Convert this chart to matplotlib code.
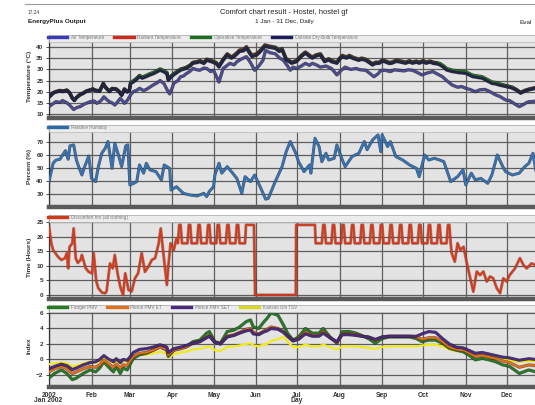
import numpy as np
import matplotlib
matplotlib.use("Agg")
import matplotlib.pyplot as plt
import matplotlib.patheffects as pe
from matplotlib.patches import Rectangle
from matplotlib.lines import Line2D

plt.rcParams['font.family'] = ['Liberation Sans', 'DejaVu Sans']

# ---------------- data ----------------
# indoor temperatures share one set of days (day of year)
indoor_days = [
    0, 2, 3, 5, 8, 10, 13, 15, 17, 18.5,
    20, 22.6, 25, 27, 30, 32, 34, 37, 39.6, 41,
    44, 46, 49, 51, 53, 55, 57, 58.6, 59.5, 61.5,
    64, 66, 68, 71, 73, 76, 78, 81, 84, 86,
    87, 89, 91, 94, 96, 98, 100, 103, 105, 108,
    110, 113, 115, 118, 120, 122, 124, 127, 130, 133,
    135, 137, 139, 142, 144, 146, 148, 151.5, 154, 157.5,
    161, 165, 168, 170, 173, 177, 180.5, 184, 187, 190,
    192, 195, 198, 201, 204, 206, 210, 212, 214, 217,
    219, 222, 226, 228, 231, 233, 236, 238, 241, 243,
    245, 248, 250, 253, 255, 258, 260, 263, 265, 268,
    270, 273, 275, 278, 280, 283, 285, 288, 290, 294,
    299, 304, 306, 309, 312, 316, 319, 323, 326, 328,
    331, 333, 336, 338, 341, 344, 347, 350, 353, 355,
]

air_temp = [
    17.5, 18.6, 19.3, 19.8, 20.3, 20.0, 20.5, 19.4, 17.0, 16.0,
    17.2, 18.5, 19.2, 20.0, 20.6, 21.0, 20.4, 20.2, 23.5, 22.0,
    20.0, 21.2, 21.0, 20.0, 18.3, 21.0, 19.8, 20.5, 23.6, 24.3,
    25.5, 26.7, 26.0, 26.7, 27.3, 28.0, 28.6, 29.6, 28.8, 28.0,
    25.0, 26.5, 27.5, 28.8, 29.6, 30.0, 30.4, 31.5, 32.7, 33.0,
    33.4, 32.6, 34.0, 33.5, 33.0, 32.5, 31.0, 34.0, 36.4, 35.0,
    35.7, 36.8, 38.0, 38.3, 39.5, 37.5, 35.7, 36.4, 37.8, 40.3,
    39.8, 39.4, 38.0, 38.7, 34.2, 32.7, 33.4, 35.7, 37.2, 35.8,
    35.0, 36.0, 36.4, 33.4, 34.2, 33.4, 32.7, 34.5, 35.7, 35.0,
    35.7, 34.8, 34.0, 34.5, 34.0, 33.2, 31.9, 32.6, 32.7, 33.6,
    33.4, 32.6, 32.7, 33.5, 33.4, 33.0, 32.7, 33.3, 32.7, 33.2,
    32.7, 33.4, 32.7, 33.2, 32.7, 32.4, 32.0, 30.8, 29.7, 29.0,
    28.5, 28.2, 27.6, 26.7, 26.4, 26.0, 25.0, 23.7, 23.4, 23.0,
    22.6, 22.3, 21.9, 21.5, 20.6, 19.3, 20.2, 20.8, 21.2, 21.5,
]

radiant_temp = [
    17.8, 18.9, 19.6, 20.1, 20.6, 20.3, 20.8, 19.7, 17.3, 16.3,
    17.5, 18.8, 19.5, 20.3, 20.9, 21.3, 20.7, 20.5, 23.8, 22.3,
    20.3, 21.5, 21.3, 20.3, 18.6, 21.3, 20.1, 20.8, 23.9, 24.6,
    25.9, 27.1, 26.4, 27.1, 27.7, 28.4, 29.0, 30.0, 29.2, 28.4,
    25.5, 27.0, 28.0, 29.3, 30.1, 30.5, 30.9, 32.0, 33.2, 33.5,
    34.0, 33.2, 34.6, 34.1, 33.6, 33.1, 31.6, 34.6, 37.0, 35.6,
    36.4, 37.5, 38.7, 39.0, 40.2, 38.2, 36.4, 37.1, 38.5, 41.0,
    40.4, 40.0, 38.6, 39.3, 34.8, 33.3, 34.0, 36.3, 37.8, 36.4,
    35.6, 36.6, 37.0, 34.0, 34.8, 34.0, 33.3, 35.1, 36.3, 35.6,
    36.3, 35.4, 34.6, 35.1, 34.6, 33.8, 32.5, 33.2, 33.3, 34.2,
    34.0, 33.2, 33.3, 34.1, 34.0, 33.6, 33.3, 33.9, 33.3, 33.8,
    33.3, 34.0, 33.3, 33.8, 33.3, 33.0, 32.5, 31.2, 30.1, 29.4,
    28.9, 28.6, 28.0, 27.1, 26.8, 26.4, 25.4, 24.1, 23.8, 23.4,
    23.0, 22.7, 22.3, 21.9, 21.0, 19.7, 20.6, 21.2, 21.6, 21.9,
]

operative_temp = [
    17.6, 18.7, 19.4, 19.9, 20.4, 20.1, 20.6, 19.5, 17.1, 16.1,
    17.3, 18.6, 19.3, 20.1, 20.7, 21.1, 20.5, 20.3, 23.6, 22.1,
    20.1, 21.3, 21.1, 20.1, 18.4, 21.1, 19.9, 20.6, 24.2, 24.9,
    26.1, 27.3, 26.6, 27.3, 27.9, 28.6, 29.2, 30.2, 29.4, 28.6,
    25.5, 27.0, 28.0, 29.3, 30.1, 30.3, 30.7, 31.8, 33.0, 33.3,
    33.7, 32.9, 34.3, 33.8, 33.3, 32.8, 31.3, 34.3, 36.7, 35.3,
    36.0, 37.1, 38.3, 38.6, 39.8, 37.8, 36.0, 36.7, 38.1, 40.6,
    40.1, 39.7, 38.3, 39.0, 34.5, 33.0, 33.7, 36.0, 37.5, 36.1,
    35.3, 36.3, 36.7, 33.7, 34.5, 33.7, 33.0, 34.8, 36.0, 35.3,
    36.0, 35.1, 34.3, 34.8, 34.3, 33.5, 32.2, 32.9, 33.0, 33.9,
    33.7, 32.9, 33.0, 33.8, 33.7, 33.3, 33.0, 33.6, 33.0, 33.5,
    33.0, 33.7, 33.0, 33.5, 33.0, 32.7, 32.7, 31.5, 30.4, 29.7,
    29.2, 28.9, 28.3, 27.4, 27.1, 26.7, 25.7, 24.4, 24.1, 23.7,
    23.1, 22.8, 22.4, 22.0, 20.8, 19.5, 20.4, 21.0, 21.4, 21.7,
]

# (day of year, value)
outdoor_temp = [
    (0, 13.3), (3, 14.6), (5, 15.5), (8, 15.2), (10, 16.0), (13, 15.0), (15, 14.0), (18, 12.0),
    (20, 12.8), (23, 13.4), (26, 14.5), (30, 15.5), (33, 15.8), (35, 14.8), (38, 16.0),
    (40, 17.7), (42, 16.5), (44, 15.5), (46, 15.0), (48, 14.0), (50, 15.4), (52, 17.0),
    (54, 15.6), (55, 14.8), (57, 16.0), (58, 17.0), (60, 19.0), (61.5, 20.0), (64, 20.6),
    (66, 21.5), (69, 20.5), (71, 21.0), (74, 22.2), (76, 23.0), (79, 24.0), (81, 25.0),
    (84, 23.5), (86, 21.0), (88, 19.0), (90, 22.0), (91, 23.7), (94, 25.0), (96, 26.7),
    (98, 27.0), (100, 28.0), (103, 29.2), (105, 30.4), (108, 29.8), (110, 29.6), (113, 30.6),
    (115, 30.4), (118, 29.0), (120, 29.6), (122, 27.0), (124, 24.3), (127, 30.4), (130, 31.8),
    (132, 32.7), (135, 32.0), (137, 33.4), (140, 34.5), (144, 35.7), (147, 33.0), (150, 29.6),
    (153, 31.5), (156, 34.0), (158, 38.5), (161, 37.5), (165, 37.0), (168, 35.2), (171, 34.0),
    (174, 31.5), (176, 29.6), (178, 31.0), (180.5, 30.4), (184, 31.5), (187, 32.7), (190, 31.8),
    (192, 32.7), (195, 32.0), (198, 31.0), (202, 31.5), (206, 30.4), (208, 29.0), (210, 27.5),
    (213, 29.5), (216, 31.0), (220, 30.0), (224, 30.4), (227, 29.8), (231, 29.6), (234, 28.2),
    (237, 26.7), (240, 28.0), (242, 29.5), (245, 29.6), (249, 29.0), (252, 29.8), (255, 29.6),
    (259, 29.3), (262, 29.8), (265, 29.6), (268, 28.8), (272, 27.5), (276, 28.4), (280, 29.0),
    (283, 28.0), (287, 26.7), (290, 25.0), (294, 23.0), (298, 22.0), (301, 22.3), (304, 21.5),
    (307, 21.0), (311, 20.0), (314, 20.8), (318, 21.0), (321, 20.2), (323, 19.5), (326, 18.5),
    (329, 17.8), (333, 16.3), (336, 16.0), (339, 14.8), (341, 14.0), (343, 13.3), (346, 14.2),
    (348, 15.0), (350, 15.5), (353, 15.6), (355, 15.8),
]

relative_humidity = [
    (0, 39.5), (3, 53.6), (5, 56.0), (8, 56.7), (10, 60.0), (12, 63.3), (13, 60.0), (14, 56.7),
    (15.3, 67.0), (18, 67.7), (20, 56.0), (22, 50.0), (24, 44.6), (26, 51.0), (29, 59.2),
    (31, 42.0), (34, 39.5), (36, 51.0), (38.5, 61.3), (41, 65.1), (43, 70.3), (46, 49.7),
    (48, 69.0), (51, 58.7), (53, 51.0), (56, 67.0), (57.5, 67.7), (59, 37.0), (61.5, 38.0),
    (64, 39.5), (66, 52.3), (69, 46.0), (71, 53.6), (73.6, 48.5), (78, 47.2), (82, 40.8),
    (84, 52.3), (88, 49.7), (89, 33.0), (93, 35.6), (98, 30.5), (103, 29.2), (108, 28.5),
    (113, 30.5), (115, 28.0), (117, 32.0), (120, 35.6), (121, 44.6), (124, 53.6), (126, 46.0),
    (130, 51.0), (133, 47.2), (137, 42.0), (140.6, 30.5), (143, 43.3), (147, 39.5),
    (150, 44.6), (154, 35.6), (158, 26.0), (160, 26.7), (165, 39.5), (170, 51.0), (173, 62.5),
    (176, 70.3), (180, 61.3), (182, 54.8), (186, 47.2), (190, 52.3), (191, 46.0), (194, 72.8),
    (197, 66.4), (199, 54.8), (202, 61.3), (204, 56.1), (208, 57.4), (210, 67.7), (213, 58.7),
    (216, 51.0), (221, 58.7), (226, 61.3), (230, 70.3), (232, 64.0), (236, 71.5), (240, 75.4),
    (242, 62.5), (243, 75.4), (247, 66.4), (249, 70.3), (253, 58.7), (258, 56.1), (263, 52.3),
    (268, 49.7), (270, 43.3), (274, 60.0), (277, 56.1), (281, 57.4), (285, 56.1), (288, 54.8),
    (293, 39.5), (298, 43.3), (302, 48.5), (304, 37.0), (308, 46.0), (311, 40.8), (315, 42.0),
    (320, 38.2), (323, 44.6), (327, 60.0), (331, 51.0), (333, 47.2), (338, 44.6), (343, 46.0),
    (347, 51.0), (350, 53.6), (353, 61.3), (355, 48.5),
]

discomfort_hours = [
    (0, 23.4), (1.7, 17.7), (3, 15.4), (6.5, 13.1), (9, 12.0), (11.7, 12.6), (13, 14.3),
    (14, 9.1), (15, 16.5), (17, 17.7), (18, 22.8), (19.5, 12.6), (21, 11.0), (23, 12.0),
    (24, 13.7), (26.8, 9.1), (29, 7.9), (31.4, 7.4), (32.6, 14.3), (34.5, 4.6), (36, 2.3),
    (38.6, 0.8), (41, 0.6), (42, 1.2), (44.5, 10.8), (46.5, 9.1), (48, 13.7), (50, 7.4),
    (52, 2.8), (54, 0.0), (55.6, 7.4), (58, 1.7), (60.3, 1.2), (62.7, 5.7), (65, 7.4),
    (67.6, 14.3), (70, 7.9), (72.5, 9.7), (75, 12.0), (77.4, 12.6), (80, 17.7), (81.5, 22.8),
    (83.4, 14.3), (86, 3.4), (87, 9.7), (88.7, 17.7), (91, 15.4), (93, 19.4), (94, 17.7),
    (95, 24), (96, 24), (97, 17.7), (101, 17.7), (102, 24), (103, 24), (104, 17.7),
    (108, 17.7), (109, 24), (110, 24), (111, 17.7), (115, 17.7), (116, 24), (117, 24),
    (118, 17.7), (122, 17.7), (123, 24), (124, 24), (125, 17.7), (129, 17.7), (130, 24),
    (131, 24), (132, 17.7), (136, 17.7), (137, 24), (138, 24), (139, 17.7), (143, 17.7),
    (143.7, 24), (149.5, 24), (150.3, 0), (180, 0), (180.3, 24), (194, 24), (194.5, 17.7),
    (199, 17.7), (200, 24), (201, 24), (202, 17.7), (206, 17.7), (207, 24), (208, 24),
    (209, 17.7), (213, 17.7), (214, 24), (215, 24), (216, 17.7), (220, 17.7), (221, 24),
    (222, 24), (223, 17.7), (227, 17.7), (228, 24), (229, 24), (230, 17.7), (234, 17.7),
    (235, 24), (236, 24), (237, 17.7), (241, 17.7), (242, 24), (243, 24), (244, 17.7),
    (248, 17.7), (249, 24), (250, 24), (251, 17.7), (255, 17.7), (256, 24), (257, 24),
    (258, 17.7), (262, 17.7), (263, 24), (264, 24), (265, 17.7), (269, 17.7), (270, 24),
    (271, 24), (272, 17.7), (276, 17.7), (277, 24), (278, 24), (279, 17.7), (283, 17.7),
    (284, 24), (285, 24), (286, 17.7), (290, 17.7), (291, 24), (292, 24), (293, 17.7),
    (293.7, 14.3), (296, 11.4), (298, 17.7), (300, 15.4), (302.4, 16.5), (304.8, 10.8),
    (307, 6.3), (309.5, 1.1), (312, 8.0), (314.4, 6.8), (316.8, 8.0), (319.3, 4.6),
    (321.7, 6.3), (324, 5.7), (326.6, 2.3), (329, 0.6), (331.4, 5.7), (333.8, 4.6), (336, 6.8),
    (339.9, 9.1), (343.5, 12.6), (346, 10.3), (348.4, 9.1), (352, 10.8), (354.5, 10.3),
]

fanger_pmv = [
    (0, -2.4), (4, -1.8), (9, -1.35), (13, -1.8), (17, -2.6), (20, -2.4), (25, -1.8),
    (30, -1.35), (34, -1.6), (37, -1.1), (40, -0.3), (43, -0.9), (47, -1.6), (49, -0.9),
    (52, -1.8), (54, -1.1), (57, -1.35), (59, -0.7), (61.5, 0.15), (66, 0.6), (71, 0.8),
    (76, 1.2), (81, 1.65), (86, 1.2), (87, 0.4), (91, 1.2), (96, 1.45), (100, 1.65), (105, 2.3),
    (110, 2.5), (115, 3.4), (117, 3.6), (121, 2.3), (125, 2.1), (130, 3.6), (135, 3.8),
    (139, 4.2), (144, 4.9), (147, 5.1), (149, 4.2), (153, 4.0), (156, 4.7), (159, 5.3),
    (162, 6.0), (167, 5.7), (171, 4.45), (174, 3.4), (178, 2.5), (182, 2.9), (187, 4.0),
    (192, 3.4), (197, 3.4), (200, 4.0), (205, 2.9), (210, 2.1), (214, 3.6), (219, 3.6),
    (224, 3.4), (228, 3.1), (233, 2.7), (238, 2.1), (243, 2.7), (248, 2.9), (253, 2.9),
    (258, 2.9), (263, 2.9), (268, 2.7), (272, 2.3), (277, 2.5), (282, 2.5), (287, 2.1),
    (292, 1.45), (297, 1.2), (302, 1.0), (306, 0.6), (311, -0.05), (316, 0.15), (321, -0.05),
    (326, -0.3), (331, -0.7), (336, -0.9), (343, -1.8), (350, -1.35), (355, -1.6),
]

pierce_pmv_et = [
    (0, -1.6), (4, -1.2), (9, -0.9), (13, -1.2), (17, -1.8), (20, -1.6), (25, -1.2), (30, -0.9),
    (34, -1.0), (37, -0.7), (40, -0.1), (43, -0.5), (47, -1.0), (49, -0.6), (52, -1.1),
    (54, -0.7), (57, -0.8), (59, -0.2), (61.5, 0.4), (66, 0.8), (71, 0.9), (76, 1.2), (81, 1.6),
    (86, 1.3), (87, 0.6), (91, 1.2), (96, 1.4), (100, 1.6), (105, 2.1), (110, 2.3), (115, 2.9),
    (117, 3.1), (121, 2.2), (125, 2.0), (130, 3.0), (135, 3.2), (139, 3.5), (144, 3.9),
    (147, 4.0), (149, 3.5), (153, 3.3), (156, 3.6), (159, 3.9), (162, 4.2), (167, 4.0),
    (171, 3.6), (174, 3.0), (178, 2.4), (182, 2.7), (187, 3.5), (192, 3.1), (197, 3.1),
    (200, 3.6), (205, 2.8), (210, 2.2), (214, 3.3), (219, 3.3), (224, 3.2), (228, 3.0),
    (233, 2.9), (238, 2.5), (243, 2.9), (248, 3.0), (253, 3.0), (258, 3.0), (263, 3.0),
    (268, 2.9), (272, 2.6), (277, 2.8), (282, 2.8), (287, 2.3), (292, 1.6), (297, 1.3),
    (302, 1.2), (306, 0.9), (311, 0.4), (316, 0.5), (321, 0.3), (326, 0.1), (331, -0.2),
    (336, -0.4), (343, -1.0), (350, -0.7), (355, -0.8),
]

pierce_pmv_set = [
    (0, -1.2), (4, -0.9), (9, -0.6), (13, -0.8), (17, -1.3), (20, -1.1), (25, -0.7), (30, -0.4),
    (34, -0.3), (37, 0.0), (40, 0.5), (43, 0.1), (47, -0.3), (49, 0.1), (52, -0.4), (54, 0.0),
    (57, -0.1), (59, 0.3), (61.5, 0.9), (66, 1.3), (71, 1.4), (76, 1.6), (81, 1.9), (86, 1.6),
    (87, 0.9), (91, 1.4), (96, 1.6), (100, 1.8), (105, 2.1), (110, 2.3), (115, 2.8), (117, 3.0),
    (121, 2.2), (125, 2.0), (130, 2.9), (135, 3.1), (139, 3.4), (144, 3.7), (147, 3.8),
    (149, 3.3), (153, 3.2), (156, 3.5), (159, 3.7), (162, 4.0), (167, 3.9), (171, 3.5),
    (174, 3.0), (178, 2.4), (182, 2.6), (187, 3.3), (192, 3.0), (197, 3.0), (200, 3.4),
    (205, 2.8), (210, 2.3), (214, 3.2), (219, 3.2), (224, 3.1), (228, 3.0), (233, 2.9),
    (238, 2.6), (243, 2.9), (248, 3.0), (253, 3.0), (258, 3.0), (263, 3.0), (268, 3.0),
    (272, 3.3), (277, 3.6), (282, 3.5), (287, 2.7), (292, 2.0), (297, 1.6), (302, 1.5),
    (306, 1.2), (311, 0.8), (316, 0.9), (321, 0.7), (326, 0.5), (331, 0.3), (336, 0.2),
    (343, -0.1), (350, 0.1), (355, 0.0),
]

kansas_tsv = [
    (0, -0.6), (4, -0.5), (9, -0.4), (13, -0.5), (17, -0.9), (20, -0.8), (25, -0.5), (30, -0.3),
    (34, -0.4), (37, -0.2), (40, 0.1), (43, -0.1), (47, -0.4), (49, -0.2), (52, -0.5),
    (54, -0.2), (57, -0.3), (59, 0.0), (61.5, 0.4), (66, 0.6), (71, 0.6), (76, 0.8), (81, 1.0),
    (86, 0.8), (87, 0.2), (91, 0.7), (96, 0.9), (100, 1.0), (105, 1.3), (110, 1.4), (115, 1.6),
    (117, 1.7), (121, 1.2), (125, 1.1), (130, 1.6), (135, 1.7), (139, 1.8), (144, 2.0),
    (147, 2.1), (149, 1.8), (153, 1.7), (156, 1.9), (159, 2.0), (162, 2.4), (167, 2.6),
    (171, 2.9), (174, 2.3), (178, 1.6), (182, 1.6), (187, 1.9), (192, 1.7), (197, 1.7),
    (200, 1.9), (205, 1.6), (210, 1.3), (214, 1.7), (219, 1.7), (224, 1.7), (228, 1.6),
    (233, 1.5), (238, 1.4), (243, 1.6), (248, 1.7), (253, 1.7), (258, 1.7), (263, 1.7),
    (268, 1.7), (272, 1.8), (277, 1.9), (282, 1.9), (287, 1.7), (292, 1.3), (297, 1.1),
    (302, 1.0), (306, 0.8), (311, 0.5), (316, 0.6), (321, 0.4), (326, 0.3), (331, 0.1),
    (336, -0.1), (343, -0.3), (350, -0.2), (355, -0.2),
]

month_start_days = [0, 31, 59, 90, 120, 151, 181, 212, 243, 273, 304, 334]
month_labels = ['2002', 'Feb', 'Mar', 'Apr', 'May', 'Jun', 'Jul', 'Aug', 'Sep', 'Oct', 'Nov', 'Dec']

# ---------------- layout helpers (pixel based) ----------------
W, H = 535, 405
fig = plt.figure(figsize=(W / 100, H / 100), dpi=100)
fig.patch.set_facecolor('white')

X_LEFT = 49
X_END_DAY = (W - X_LEFT) / 1.371


def fx(x):
    return x / W


def fy(y):
    return 1 - y / H


def make_panel(top, bottom, ylim, yticks, ylabel, legend_items, strip_px=7):
    ax = fig.add_axes([fx(X_LEFT), fy(bottom), 1 - fx(X_LEFT), (bottom - top) / H])
    ax.set_facecolor('#e3e3e3')
    ax.set_xlim(0, X_END_DAY)
    ax.set_ylim(*ylim)
    ax.set_xticks(month_start_days)
    ax.set_yticks(yticks)
    ax.grid(True, color='#5e5e5e', linewidth=0.9, zorder=1)
    ax.set_axisbelow(True)
    ax.spines['right'].set_visible(False)
    ax.spines['left'].set_color('#333333')
    ax.spines['left'].set_linewidth(0.9)
    ax.spines['top'].set_color('#9a9a9a')
    ax.spines['top'].set_linewidth(0.6)
    ax.spines['bottom'].set_color('#5a5a5a')
    ax.spines['bottom'].set_linewidth(3.2)
    ax.tick_params(axis='y', labelsize=4.6, length=2.5, width=0.6, pad=1.5,
                   colors='#333333')
    ax.tick_params(axis='x', length=0, labelbottom=False)
    for lbl in ax.get_yticklabels():
        lbl.set_fontweight('bold')
    ax.set_ylabel(ylabel, fontsize=4.6, fontweight='bold', color='#333333', labelpad=3)
    # legend strip along the top of the panel
    h = strip_px / (bottom - top)
    ax.add_patch(Rectangle((0, 1 - h), 1, h, transform=ax.transAxes,
                           facecolor='#ececec', edgecolor='#b5b5b5', linewidth=0.5,
                           zorder=5, clip_on=False))
    handles = [Line2D([], [], color=c, linewidth=2.4) for _, c in legend_items]
    leg = ax.legend(handles, [n for n, _ in legend_items], loc='upper left',
                    bbox_to_anchor=(-0.003, 1.0 + 0.9 / (bottom - top)),
                    ncol=len(legend_items), frameon=False, fontsize=3.3,
                    handlelength=4.2, handletextpad=0.8, columnspacing=2.2,
                    borderpad=0.15, borderaxespad=0.0)
    for t in leg.get_texts():
        t.set_color('#7a7a7a')
    leg.set_zorder(6)
    return ax


def draw(ax, days, values, color, lw=1.3, outline='#1c1c1c', alpha=0.75, z=3):
    effects = [pe.Stroke(linewidth=lw + 0.9, foreground=outline, alpha=alpha), pe.Normal()]
    ax.plot(days, values, color=color, linewidth=lw, zorder=z, path_effects=effects,
            solid_joinstyle='round')


def draw_pairs(ax, series, color, **kw):
    draw(ax, [p[0] for p in series], [p[1] for p in series], color, **kw)


# ---------------- header ----------------
fig.add_artist(Line2D([fx(25), 1], [fy(4), fy(4)], color='#9a9a9a', linewidth=0.8))
fig.text(fx(28), fy(12), '17:24', fontsize=3.4, color='#333333', va='center')
fig.text(fx(28), fy(22), 'EnergyPlus Output', fontsize=4.6, color='#222222',
         va='center', fontweight='bold')
fig.text(fx(284), fy(12), 'Comfort chart result - Hostel, hostel gf', fontsize=5.4,
         color='#222222', ha='center', va='center')
fig.text(fx(284), fy(22), '1 Jan - 31 Dec, Daily', fontsize=4.6, color='#222222',
         ha='center', va='center')
fig.text(fx(532), fy(22), 'Eval', fontsize=4.6, color='#222222', va='center', ha='right')

# ---------------- temperature panel ----------------
temp_colors = {'Air Temperature': '#3a3ab8', 'Radiant Temperature': '#cc2a1a',
               'Operative Temperature': '#1f6e1f',
               'Outside Dry-Bulb Temperature': '#1e1e5e'}
ax1 = make_panel(35, 118, (8.2, 45.4), [10, 15, 20, 25, 30, 35, 40], 'Temperature (\u00b0C)',
                 list(temp_colors.items()))
draw_pairs(ax1, outdoor_temp, '#4a4a9a', lw=1.5)
draw(ax1, indoor_days, radiant_temp, temp_colors['Radiant Temperature'], lw=1.5)
draw(ax1, indoor_days, operative_temp, '#2a8a2a', lw=1.5)
draw(ax1, indoor_days, air_temp, '#22224a', lw=1.5)

# ---------------- relative humidity panel ----------------
ax2 = make_panel(125, 207, (20.0, 83.0), [30, 40, 50, 60, 70], 'Percent (%)',
                 [('Relative Humidity', '#2f6aa8')])
draw_pairs(ax2, relative_humidity, '#3574b4', lw=1.3, outline='#1c3050')

# ---------------- discomfort panel ----------------
ax3 = make_panel(215, 299, (-1.4, 27.4), [0, 5, 10, 15, 20, 25], 'Time (Hours)',
                 [('Discomfort hrs (all clothing)', '#d0381c')])
draw_pairs(ax3, discomfort_hours, '#d23a1c', lw=1.3, outline='#7a2010', alpha=0.5)

# ---------------- comfort index panel ----------------
idx_colors = {'Fanger PMV': '#267a26', 'Pierce PMV ET': '#e0701e',
              'Pierce PMV SET': '#4a2a80', 'Kansas Uni TSV': '#d8d820'}
ax4 = make_panel(305, 387, (-3.55, 7.03), [-2, 0, 2, 4, 6], 'Index',
                 list(idx_colors.items()))
ax4.plot([p[0] for p in kansas_tsv], [p[1] for p in kansas_tsv], color='#f0ea1c',
         linewidth=1.6, zorder=3)
draw_pairs(ax4, fanger_pmv, idx_colors['Fanger PMV'], lw=1.4, outline='#103010')
draw_pairs(ax4, pierce_pmv_et, idx_colors['Pierce PMV ET'], lw=1.4, outline='#6a3010')
draw_pairs(ax4, pierce_pmv_set, idx_colors['Pierce PMV SET'], lw=1.4, outline='#1a1030')

ax4.tick_params(axis='x', labelbottom=True, labelsize=4.8, pad=3.5, colors='#333333')
ax4.set_xticklabels(month_labels)
for lbl in ax4.get_xticklabels():
    lbl.set_fontweight('bold')
fig.text(fx(48), fy(401), 'Jan 2002', fontsize=4.8, fontweight='bold', color='#333333',
         ha='center', va='center')
fig.text(fx(297), fy(401), 'Day', fontsize=4.8, fontweight='bold', color='#333333',
         ha='center', va='center')

fig.savefig('out.png', dpi=100, facecolor='white')
